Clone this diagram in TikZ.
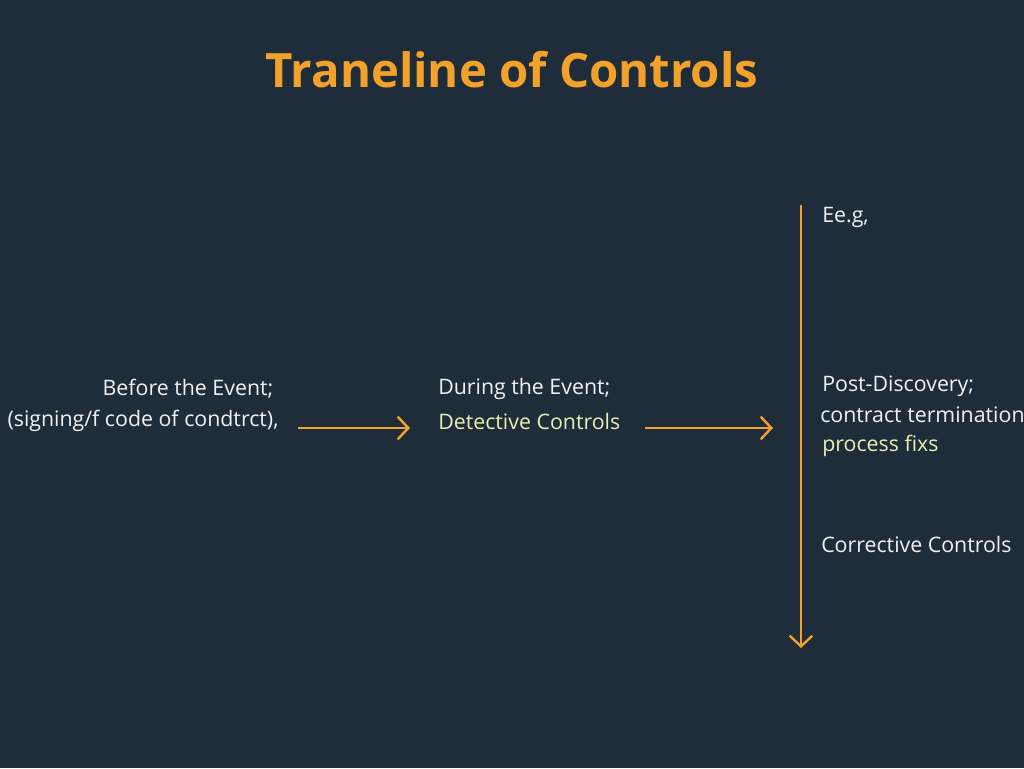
\documentclass[tikz,border=0pt]{standalone}
\usepackage{fontspec}
\setmainfont{Open Sans}
\usetikzlibrary{arrows.meta}
\definecolor{bg}{HTML}{1F2D3B}
\definecolor{org}{HTML}{F2A22A}
\definecolor{lt}{HTML}{F2F2F2}
\definecolor{yl}{HTML}{E8EFB0}
\begin{document}
\begin{tikzpicture}[x=0.75pt,y=-0.75pt,
  txt/.style={text=lt,font=\fontsize{16}{19}\selectfont,inner sep=0pt},
  arr/.style={org,line width=1.8pt,-{Straight Barb[length=8pt,width=17pt,line width=1.8pt]}}]
\fill[bg] (0,0) rectangle (1024,768);
\useasboundingbox (0,0) rectangle (1024,768);
\node[text=org,font=\fontsize{35.5}{40}\selectfont\bfseries] (title) at (512,70) {Traneline of Controls};
\node[txt] (b1) at (188,389) {Before the Event;};
\node[txt] (b2) at (143,421) {(signing/f code of condtrct),};
\node[txt,anchor=west] (d1) at (438,389) {During the Event;};
\node[txt,anchor=west,text=yl] (d2) at (438,421) {Detective Controls};
\coordinate (a1s) at (298,428); \coordinate (a1e) at (410,428);
\coordinate (a2s) at (645,428); \coordinate (a2e) at (773,428);
\coordinate (vs) at (801,205); \coordinate (ve) at (801,648);
\draw[arr] (a1s) -- (a1e);
\draw[arr] (a2s) -- (a2e);
\draw[arr] (vs) -- (ve);
\node[txt,anchor=west] (e) at (822,217) {Ee.g,};
\node[txt,anchor=west] (p1) at (822,386) {Post-Discovery;};
\node[txt,anchor=west] (p2) at (820,416) {contract termination,};
\node[txt,anchor=west,text=yl] (p3) at (822,446) {process fixs};
\node[txt,anchor=west] (c) at (821,544) {Corrective Controls};
\end{tikzpicture}
\end{document}
